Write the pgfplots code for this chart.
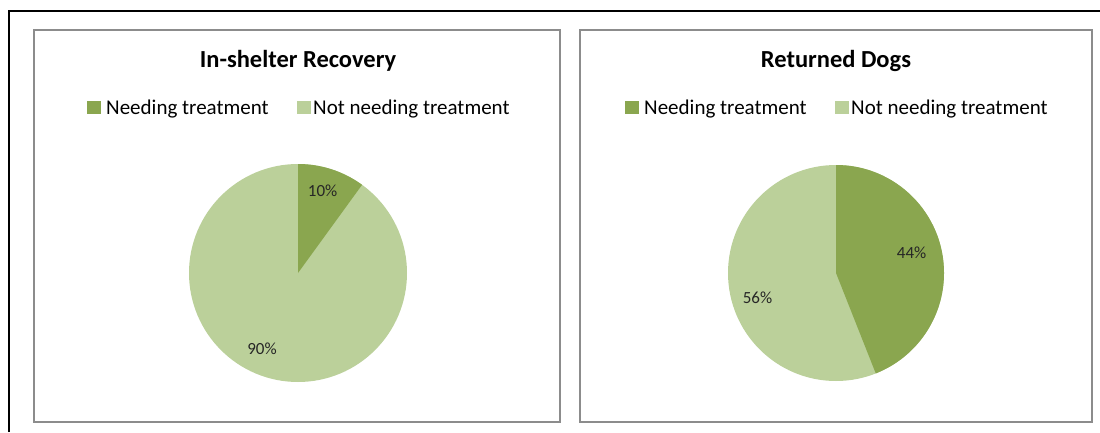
\documentclass[border=0pt]{standalone}
\usepackage{pgfplots}
\pgfplotsset{compat=1.18}
\usetikzlibrary{calc}
\usepackage{fontspec}
\setmainfont{Carlito}
\definecolor{darkg}{HTML}{8AA64F}
\definecolor{lightg}{HTML}{BBD09A}
\definecolor{framegray}{HTML}{8C8C8C}
% data: percentage needing / not needing treatment
\def\leftA{10}\def\leftB{90}
\def\rightA{44}\def\rightB{56}
\newcommand{\pieslices}[3]{% #1 value A, #2 value B, #3 radius
  \pgfmathsetmacro{\angA}{90-3.6*#1}
  \pgfmathsetmacro{\midA}{90-1.8*#1}
  \pgfmathsetmacro{\midB}{\angA-1.8*#2}
  \fill[lightg] (axis cs:0,0) circle[radius=#3];
  \fill[darkg] (axis cs:0,0) -- ++(90:#3) arc[start angle=90,end angle=\angA,radius=#3] -- cycle;
}
\tikzset{lbl/.style={font=\fontsize{17}{20}\selectfont,text=black!85}}
\begin{document}
\begin{tikzpicture}[x=1pt,y=1pt]
\path[use as bounding box] (0,0) rectangle (1100,432);
\draw[black,line width=1.6pt] (9,0) -- (9,421) -- (1100,421);
\draw[framegray,line width=1.2pt] (34,10) rectangle (560,402);
\draw[framegray,line width=1.2pt] (580,10) rectangle (1092,402);
% titles
\node[font=\fontsize{24.5}{28}\selectfont\bfseries,anchor=base] at (298,364) {In-shelter Recovery};
\node[font=\fontsize{24.5}{28}\selectfont\bfseries,anchor=base] at (836,364) {Returned Dogs};
% legends
\foreach \lc in {301,839}{
  \fill[darkg] (\lc-214,318) rectangle ++(14,13);
  \node[anchor=base west,font=\fontsize{21}{24}\selectfont,inner sep=0pt] at (\lc-195,317) {Needing treatment};
  \fill[lightg] (\lc-4,318) rectangle ++(14,13);
  \node[anchor=base west,font=\fontsize{21}{24}\selectfont,inner sep=0pt] at (\lc+12,317) {Not needing treatment};
}
\begin{axis}[at={(298pt,159pt)},anchor=center,scale only axis,width=218pt,height=218pt,
  xmin=-1,xmax=1,ymin=-1,ymax=1,hide axis,clip=false]
  \pieslices{\leftA}{\leftB}{109pt}
  \node[lbl] at ($(axis cs:0,0)+(\midA:86pt)+(-2pt,0pt)$) {\leftA\%};
  \node[lbl] at ($(axis cs:0,0)+(\midB:84pt)+(-10pt,4pt)$) {\leftB\%};
\end{axis}
\begin{axis}[at={(836pt,159pt)},anchor=center,scale only axis,width=214pt,height=218pt,
  xmin=-1,xmax=1,ymin=-1,ymax=1,hide axis,clip=false]
  \pieslices{\rightA}{\rightB}{108pt}
  \node[lbl] at ($(axis cs:0,0)+(\midA:78pt)+(-1pt,6pt)$) {\rightA\%};
  \node[lbl] at ($(axis cs:0,0)+(\midB:84pt)+(4pt,-9pt)$) {\rightB\%};
\end{axis}
\end{tikzpicture}
\end{document}
